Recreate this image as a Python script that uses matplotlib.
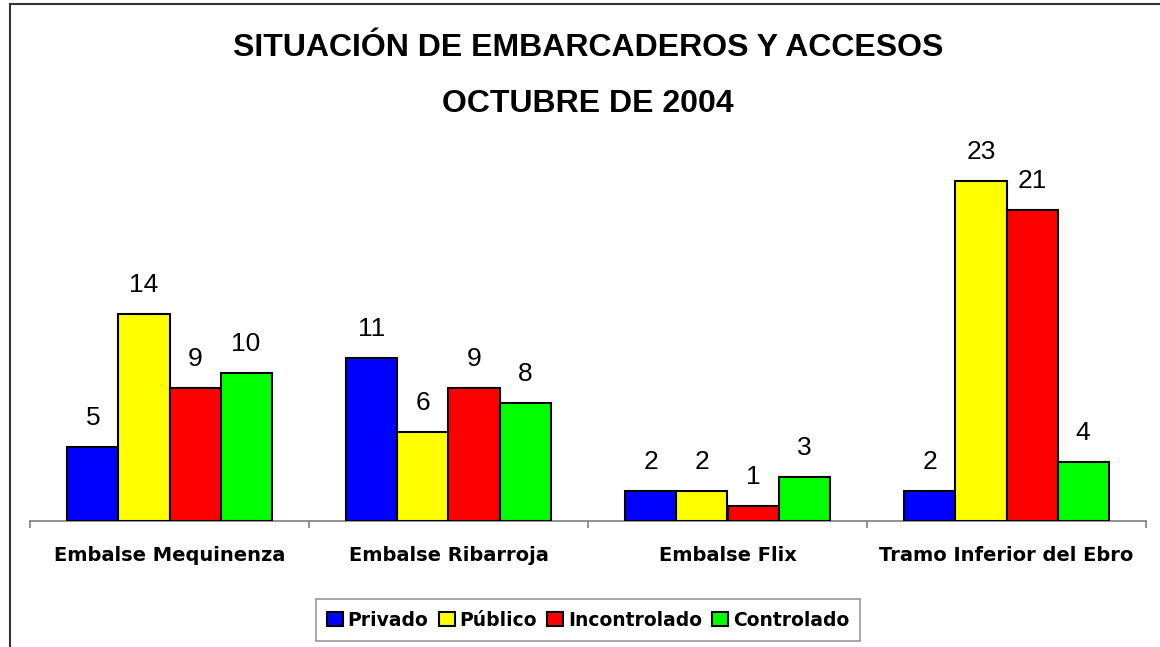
import matplotlib
matplotlib.use("Agg")
import matplotlib.pyplot as plt
import numpy as np

categories = ["Embalse Mequinenza", "Embalse Ribarroja", "Embalse Flix", "Tramo Inferior del Ebro"]
series_names = ["Privado", "Público", "Incontrolado", "Controlado"]
privado = [5, 11, 2, 2]
publico = [14, 6, 2, 23]
incontrolado = [9, 9, 1, 21]
controlado = [10, 8, 3, 4]
colors = ["#0000FF", "#FFFF00", "#FF0000", "#00FF00"]
title = "SITUACIÓN DE EMBARCADEROS Y ACCESOS\nOCTUBRE DE 2004"

plt.rcParams['font.family'] = ['Liberation Sans', 'DejaVu Sans']

fig = plt.figure(figsize=(11.6, 6.47), dpi=100)
ax = fig.add_axes([30/1160, 1-521/647, (1146-30)/1160, 370/647])

x = np.arange(len(categories))
w = 0.183
data = [privado, publico, incontrolado, controlado]
for i, (vals, c, name) in enumerate(zip(data, colors, series_names)):
    pos = x + (i - 1.5) * w
    bars = ax.bar(pos, vals, width=w, color=c, edgecolor="black", linewidth=1.5, label=name, zorder=3)
    for b, v in zip(bars, vals):
        ax.annotate(str(v), (b.get_x() + b.get_width()/2, v), xytext=(0, 17),
                    textcoords="offset pixels",
                    ha="center", va="bottom", fontsize=19)

ax.set_xlim(-0.5, len(categories) - 0.5)
ax.set_ylim(0, 25)
for s in ["top", "right", "left"]:
    ax.spines[s].set_visible(False)
ax.spines["bottom"].set_color("#808080")
ax.spines["bottom"].set_linewidth(1.2)
ax.set_yticks([])
ax.set_xticks(x)
ax.set_xticklabels(categories, fontsize=14, fontweight="bold", family="DejaVu Sans")
ax.tick_params(axis="x", which="major", length=0, pad=18)
ax.set_xticks(np.arange(-0.5, len(categories)), minor=True)
ax.tick_params(axis="x", which="minor", length=5, color="#808080", width=1.2)

fig.text(588/1160, 1-76/647, title, ha="center", va="center", fontsize=23,
         fontweight="bold", linespacing=2.15)

leg = fig.legend(loc="center", bbox_to_anchor=(588/1160, 1-620/647), ncol=4,
                 prop={"size": 13.5, "weight": "bold", "family": "DejaVu Sans"},
                 frameon=True, fancybox=False,
                 edgecolor="#808080", handlelength=0.85, handleheight=0.85,
                 handletextpad=0.25, columnspacing=0.55, borderpad=0.6)
leg.get_frame().set_linewidth(1.2)

# outer border (left and top)
fig.add_artist(plt.Line2D([10/1160, 10/1160], [0, 1-4/647], color="#333333", lw=1.5, transform=fig.transFigure))
fig.add_artist(plt.Line2D([10/1160, 1], [1-4/647, 1-4/647], color="#333333", lw=1.5, transform=fig.transFigure))

fig.savefig("out.png", dpi=100)
